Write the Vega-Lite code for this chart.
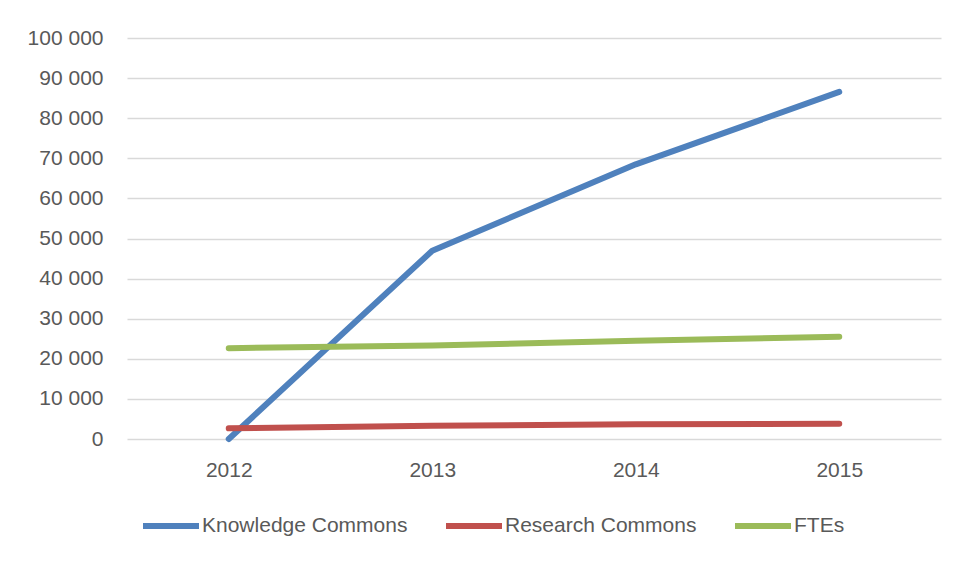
{
  "$schema": "https://vega.github.io/schema/vega-lite/v6.json",
  "autosize": {"type": "none"},
  "width": 814,
  "height": 401,
  "padding": {"left": 127, "top": 38, "right": 21, "bottom": 124},
  "background": "white",
  "data": {
    "values": [
      {"year": "2012", "series": "Knowledge Commons", "value": 0},
      {"year": "2013", "series": "Knowledge Commons", "value": 46950},
      {"year": "2014", "series": "Knowledge Commons", "value": 68500},
      {"year": "2015", "series": "Knowledge Commons", "value": 86550},
      {"year": "2012", "series": "Research Commons", "value": 2650},
      {"year": "2013", "series": "Research Commons", "value": 3300},
      {"year": "2014", "series": "Research Commons", "value": 3650},
      {"year": "2015", "series": "Research Commons", "value": 3800},
      {"year": "2012", "series": "FTEs", "value": 22650},
      {"year": "2013", "series": "FTEs", "value": 23300},
      {"year": "2014", "series": "FTEs", "value": 24500},
      {"year": "2015", "series": "FTEs", "value": 25500}
    ]
  },
  "mark": {"type": "line", "strokeWidth": 6, "strokeCap": "round", "strokeJoin": "round"},
  "encoding": {
    "x": {
      "field": "year",
      "type": "ordinal",
      "scale": {"type": "point", "padding": 0.5},
      "axis": {
        "title": null,
        "labelAngle": 0,
        "ticks": false,
        "domain": false,
        "grid": false,
        "labelPadding": 20,
        "labelFont": "Liberation Sans",
        "labelFontSize": 21,
        "labelColor": "#595959"
      }
    },
    "y": {
      "field": "value",
      "type": "quantitative",
      "scale": {"domain": [0, 100000], "nice": false},
      "axis": {
        "title": null,
        "values": [0, 10000, 20000, 30000, 40000, 50000, 60000, 70000, 80000, 90000, 100000],
        "labelExpr": "replace(format(datum.value, ','), ',', ' ')",
        "ticks": false,
        "domain": false,
        "grid": true,
        "gridColor": "#d9d9d9",
        "gridWidth": 1.5,
        "labelPadding": 24,
        "labelFont": "Liberation Sans",
        "labelFontSize": 21,
        "labelColor": "#595959"
      }
    },
    "color": {
      "field": "series",
      "type": "nominal",
      "scale": {
        "domain": ["Knowledge Commons", "Research Commons", "FTEs"],
        "range": ["#4f81bd", "#c0504d", "#9bbb59"]
      },
      "legend": {
        "title": null,
        "orient": "none",
        "direction": "horizontal",
        "legendX": 13,
        "legendY": 457,
        "symbolType": "stroke",
        "symbolSize": 3136,
        "symbolStrokeWidth": 6,
        "labelOffset": 0,
        "labelLimit": 400,
        "columnPadding": 26,
        "labelFont": "Liberation Sans",
        "labelFontSize": 21,
        "labelColor": "#595959"
      }
    }
  },
  "config": {
    "view": {"stroke": null}
  }
}
